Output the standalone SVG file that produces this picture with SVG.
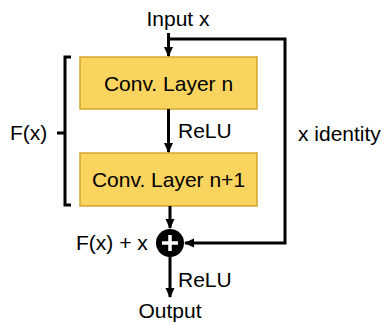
<svg xmlns="http://www.w3.org/2000/svg" width="389" height="325" viewBox="0 0 389 325">
<style>
.box{fill:#F9D45E;stroke:#D2A52B;stroke-width:1.5}
.t{font-family:"Liberation Sans",Arial,sans-serif;font-size:21px;fill:#000}
.c{text-anchor:middle}
.ln{fill:none;stroke:#000;stroke-width:3}
</style>
<defs>
<marker id="ah" markerWidth="10" markerHeight="10" viewBox="0 0 10 10" refX="9" refY="5" orient="auto" markerUnits="userSpaceOnUse">
<path d="M0,0.5 L10,5 L0,9.5 Z" fill="#000"/>
</marker>
</defs>
<rect width="389" height="325" fill="#fff"/>
<g id="input"><text class="t c" x="178" y="26">Input x</text></g>
<g id="conv1"><rect class="box" x="80" y="57" width="177" height="52"/><text class="t c" x="168.5" y="91">Conv. Layer n</text></g>
<g id="conv2"><rect class="box" x="80" y="153" width="177" height="53"/><text class="t c" x="168.5" y="187">Conv. Layer n+1</text></g>
<g id="sum"><circle cx="170" cy="243" r="14" fill="#000"/><path d="M162,243 H178 M170,235 V251" stroke="#fff" stroke-width="3.5" fill="none"/></g>
<g id="output"><text class="t c" x="170" y="318">Output</text></g>
<g id="fx"><path class="ln" d="M71,57 H65 V205 H71 M57,133 H65" stroke-width="2"/><text class="t" x="10" y="140">F(x)</text></g>
<g id="labels">
<text class="t" x="298" y="141">x identity</text>
<text class="t" x="178" y="138">ReLU</text>
<text class="t" x="178" y="287">ReLU</text>
<text class="t" x="76" y="250">F(x) + x</text>
</g>
<g id="connectors">
<path class="ln" d="M168.5,33 V56" marker-end="url(#ah)"/>
<path class="ln" d="M168.5,39 H285 V243 H185" marker-end="url(#ah)"/>
<path class="ln" d="M168.5,109 V152" marker-end="url(#ah)"/>
<path class="ln" d="M170,206 V228" marker-end="url(#ah)"/>
<path class="ln" d="M170,256 V297" marker-end="url(#ah)"/>
</g>
</svg>
